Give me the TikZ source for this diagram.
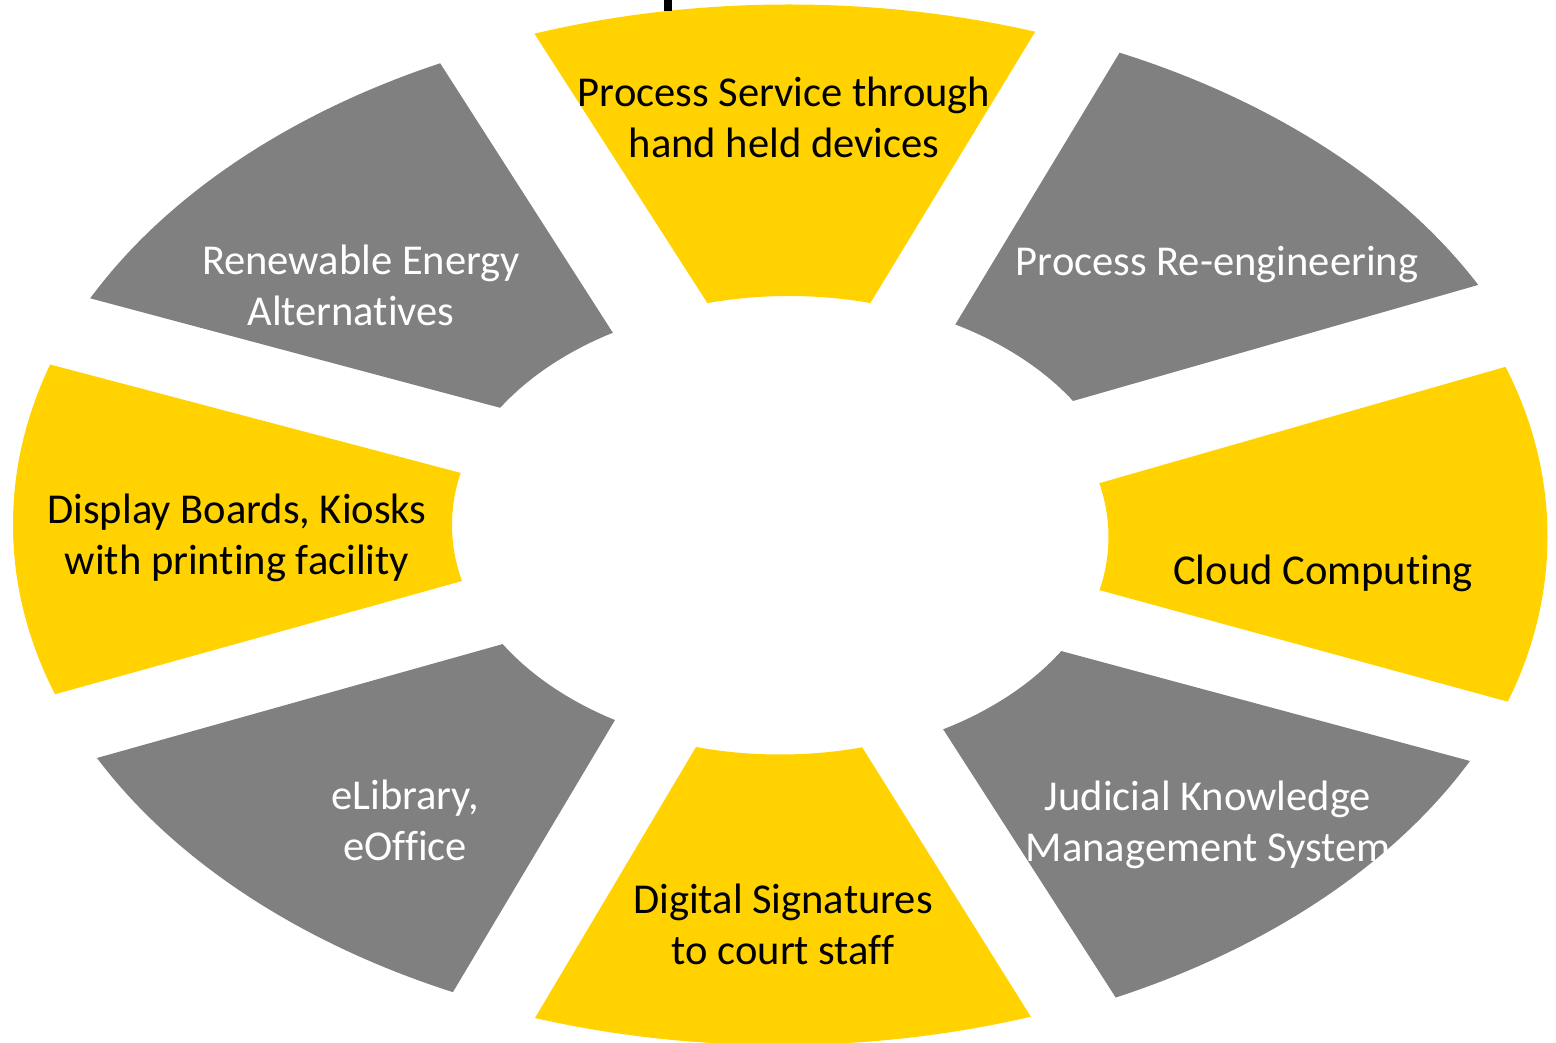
\documentclass[tikz,border=0pt]{standalone}
\usepackage{fontspec}
\setmainfont{Carlito}[Ligatures={NoCommon,NoContextual}, Contextuals=NoAlternate]
\usetikzlibrary{calc}
\definecolor{ringyellow}{RGB}{255,210,0}
\definecolor{ringgray}{RGB}{128,128,128}

% one piece of the ring: colour, offset, outer corner, inner corner, inner corner, outer corner
\newcommand{\ringpart}[6]{%
  \begin{scope}
    \clip ($(#4)!-0.2!(#3)$) -- ($(#4)!1.4!(#3)$) -- ($(#5)!1.4!(#6)$) -- ($(#5)!-0.2!(#6)$) -- cycle;
    \fill[#1, even odd rule, shift={(#2)}]
      (781,524.5) ellipse [x radius=768, y radius=519]
      (781,525) ellipse [x radius=329, y radius=228];
  \end{scope}}

\tikzset{
  onyellow/.style={font=\fontsize{12.1}{14.5}\selectfont, text=black, align=center},
  ongray/.style={font=\fontsize{12.1}{14.5}\selectfont, text=white, align=center}
}

\begin{document}
\begin{tikzpicture}[x=0.01cm, y=-0.01cm]
  \useasboundingbox (0,0) rectangle (1556,1043);

  % the eight pieces, clockwise from the top
  \ringpart{ringyellow}{8,-1}{534,33}{708,304}{871,302}{1035,32}
  \ringpart{ringgray}{15,-1}{1120,52}{955,325}{1073,401}{1478,285}
  \ringpart{ringyellow}{-1.5,12}{1505,367}{1100,483}{1099,590}{1509,702}
  \ringpart{ringgray}{1,5.5}{1470,761}{1061,651}{943,729}{1116,998}
  \ringpart{ringyellow}{-1,1.5}{1031,1017}{862,747}{696,747}{535,1018}
  \ringpart{ringgray}{1,-1.4}{453,992}{615,720}{503,644}{97,758}
  \ringpart{ringyellow}{0,0}{56,694}{462,581}{461,473}{52,365}
  \ringpart{ringgray}{-3,5}{89,298}{501,408}{613,333}{440,63}

  % bit of the title above
  \fill[black] (664,0) rectangle (672,11);

  % labels
  \node[onyellow] (service) at (784,117) {Process Service through\\hand held devices};
  \node[ongray] (reeng) at (1217,265) {Process Re-engineering};
  \node[onyellow] (cloud) at (1323,573) {Cloud Computing};
  \node[ongray] (jkms) at (1208,825) {Judicial Knowledge\\Management System};
  \node[onyellow] (digsig) at (783,924) {Digital Signatures\\to court staff};
  \node[ongray] (elib) at (405,820) {eLibrary,\\eOffice};
  \node[onyellow] (display) at (237,538) {Display Boards, Kiosks\\with printing facility};
  \node[ongray] (energy) at (361,285) {Renewable Energy\\Alternatives\rule{2mm}{0pt}};
\end{tikzpicture}
\end{document}
